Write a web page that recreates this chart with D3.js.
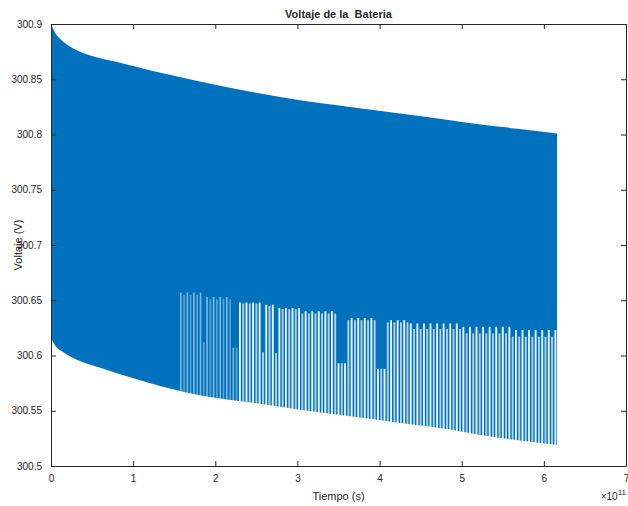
<!DOCTYPE html>
<html>
<head>
<meta charset="utf-8">
<script src="https://cdn.jsdelivr.net/npm/d3@7"></script>
<style>
body { margin:0; background:#fff; }
text { font-family: "Liberation Sans", Arial, sans-serif; fill:#262626; }
</style>
</head>
<body>
<svg id="graph"></svg>
<script>
// envelope of the battery voltage (time in 1e11 s, volts)
var envT   = [0, 0.05, 0.15, 0.32, 0.60, 0.84, 1.21, 1.51, 1.81, 2.48, 3.03, 3.64, 4.25, 4.86, 5.23, 5.71, 6.16]
var upperV = [300.9, 300.892, 300.884, 300.876, 300.869, 300.865, 300.858, 300.853, 300.848, 300.838, 300.831, 300.825, 300.819, 300.813, 300.809, 300.805, 300.801]
var lowerV = [300.616, 300.609, 300.603, 300.596, 300.589, 300.583, 300.575, 300.569, 300.564, 300.557, 300.551, 300.545, 300.539, 300.533, 300.528, 300.523, 300.519]

// gaps between discharge pulses (time in 1e11 s)
var gapT = [1.58,1.62,1.66,1.70,1.74,1.78,1.82,1.86,1.90,1.94,1.98,2.02,2.06,2.10,2.14,2.18,2.22,2.26,2.30,2.34,
  2.38,2.42,2.46,2.50,2.54,2.58,2.62,2.66,2.70,2.74,2.78,2.82,2.86,2.90,2.94,2.98,3.02,3.06,3.10,3.14,
  3.18,3.22,3.26,3.30,3.34,3.38,3.42,3.46,3.50,3.54,3.58,3.62,3.66,3.70,3.74,3.78,3.82,3.86,3.90,3.94,
  3.98,4.02,4.06,4.10,4.14,4.18,4.22,4.26,4.30,4.34,4.38,4.42,4.46,4.50,4.54,4.58,4.62,4.66,4.70,4.74,
  4.78,4.82,4.86,4.90,4.94,4.98,5.02,5.06,5.10,5.14,5.18,5.22,5.26,5.30,5.34,5.38,5.42,5.46,5.50,5.54,
  5.58,5.62,5.66,5.70,5.74,5.78,5.82,5.86,5.90,5.94,5.98,6.02,6.06,6.10,6.14]
// [from, to, top of even gaps, top of odd gaps] in volts
var gapBands = [
  [1.56, 1.85, 300.657, 300.655],
  [1.85, 1.89, 300.612, 300.612],
  [1.89, 2.21, 300.653, 300.651],
  [2.21, 2.27, 300.607, 300.607],
  [2.27, 2.57, 300.648, 300.647],
  [2.57, 2.61, 300.603, 300.603],
  [2.61, 2.73, 300.646, 300.645],
  [2.73, 2.77, 300.602, 300.602],
  [2.77, 3.05, 300.643, 300.642],
  [3.05, 3.49, 300.640, 300.638],
  [3.49, 3.61, 300.593, 300.593],
  [3.61, 3.97, 300.634, 300.632],
  [3.97, 4.09, 300.588, 300.588],
  [4.09, 4.37, 300.632, 300.630],
  [4.37, 5.01, 300.629, 300.624],
  [5.01, 5.61, 300.626, 300.620],
  [5.61, 6.20, 300.623, 300.617]
]

var xTicks = [0,1,2,3,4,5,6,7]
var yTicks = [300.5,300.55,300.6,300.65,300.7,300.75,300.8,300.85,300.9]

var screen = {width:628, height:506}
var plot = {left:51, right:626, top:24, bottom:466}
var blue = "#0072BD"

var svg = d3.select("#graph")
  .attr("width", screen.width)
  .attr("height", screen.height)

var xScale = d3.scaleLinear().domain([0,7]).range([plot.left, plot.right])
var yScale = d3.scaleLinear().domain([300.5,300.9]).range([plot.bottom, plot.top])
var lowerAt = d3.scaleLinear().domain(envT).range(lowerV).clamp(true)

var env = envT.map(function(t,i){ return {t:t, hi:upperV[i], lo:lowerV[i]} })

svg.append("path")
  .datum(env)
  .attr("fill", blue)
  .attr("d", d3.area()
    .x(function(d){ return xScale(d.t) })
    .y0(function(d){ return yScale(d.lo) })
    .y1(function(d){ return yScale(d.hi) })
    .curve(d3.curveMonotoneX))

var gapTop = function(t,i)
{
  var b = gapBands.find(function(b){ return t >= b[0] && t < b[1] })
  return i % 2 == 0 ? b[2] : b[3]
}

svg.append("g")
  .selectAll("line")
  .data(gapT)
  .enter()
  .append("line")
  .attr("x1", function(t){ return xScale(t) })
  .attr("x2", function(t){ return xScale(t) })
  .attr("y1", function(t,i){ return yScale(gapTop(t,i)) })
  .attr("y2", function(t){ return yScale(lowerAt(t)) + 3 })
  .attr("stroke", "#fff")
  .attr("stroke-width", function(t){ return t < 2.3 ? 1.6 : 1.9 })
  .attr("stroke-opacity", function(t,i){
    var base = t < 2.3 ? 0.5 : 0.92
    return i % 2 == 0 ? base : base * 0.75
  })

// axes, MATLAB style: box with inward ticks
var axisColor = "#262626"
var xAxis = d3.axisBottom(xScale).tickValues(xTicks).tickSizeInner(-5).tickSizeOuter(0).tickPadding(9)
  .tickFormat(d3.format("d"))
var yAxis = d3.axisLeft(yScale).tickValues(yTicks).tickSizeInner(-5).tickSizeOuter(0).tickPadding(9)
  .tickFormat(function(d){ return String(+d.toFixed(2)) })

var gx = svg.append("g").attr("transform","translate(0,"+plot.bottom+")").call(xAxis)
var gy = svg.append("g").attr("transform","translate("+plot.left+",0)").call(yAxis)
var gxt = svg.append("g").attr("transform","translate(0,"+plot.top+")")
  .call(d3.axisTop(xScale).tickValues(xTicks).tickSizeInner(-5).tickSizeOuter(0).tickFormat(""))
var gyr = svg.append("g").attr("transform","translate("+plot.right+",0)")
  .call(d3.axisRight(yScale).tickValues(yTicks).tickSizeInner(-5).tickSizeOuter(0).tickFormat(""))

;[gx,gy,gxt,gyr].forEach(function(g){
  g.selectAll("path,line").attr("stroke", axisColor).attr("stroke-width", 1)
  g.selectAll("text").attr("fill", axisColor).style("font-size","10px")
    .style("font-family", "'Liberation Sans', Arial, sans-serif")
})

svg.append("text")
  .attr("x", (plot.left+plot.right)/2)
  .attr("y", 18)
  .attr("text-anchor","middle")
  .style("font-size","11px")
  .style("font-weight","bold")
  .style("white-space","pre")
  .text("Voltaje de la  Bateria")

svg.append("text")
  .attr("x", (plot.left+plot.right)/2)
  .attr("y", 500)
  .attr("text-anchor","middle")
  .style("font-size","11px")
  .text("Tiempo (s)")

var mult = svg.append("text")
  .attr("x", plot.right)
  .attr("y", 500)
  .attr("text-anchor","end")
  .style("font-size","10px")
mult.append("tspan").text("\u00d710")
mult.append("tspan").attr("dy",-5).style("font-size","8px").text("11")

svg.append("text")
  .attr("transform","translate(22,"+(plot.top+plot.bottom)/2+") rotate(-90)")
  .attr("text-anchor","middle")
  .style("font-size","11px")
  .text("Voltaje (V)")
</script>
</body>
</html>
